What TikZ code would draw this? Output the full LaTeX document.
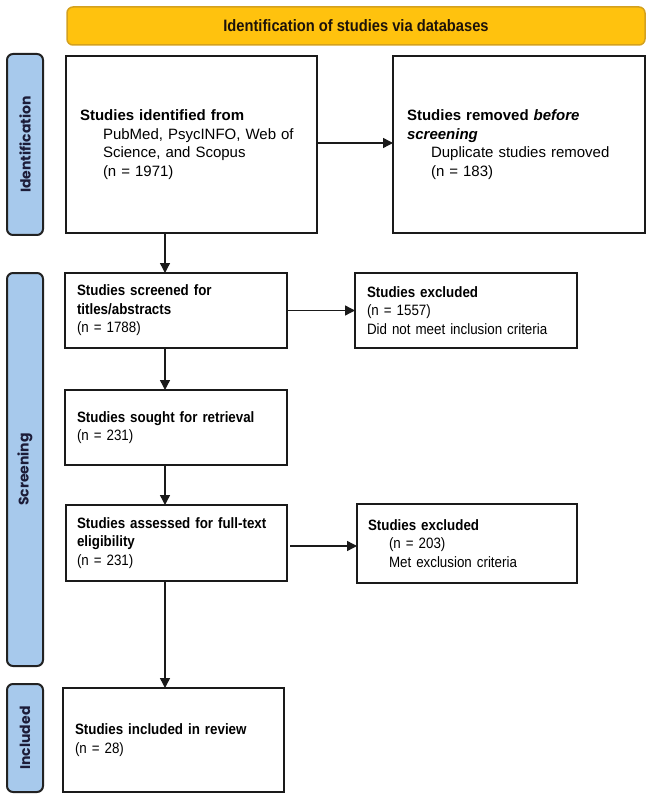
\documentclass[tikz,border=0pt]{standalone}
\usepackage{fontspec}
\setmainfont{Liberation Sans}
\newfontfamily\narrowfont{Liberation Sans}[FakeStretch=0.89]
\newfontfamily\sidefont{Poppins}
\usetikzlibrary{arrows.meta,calc}
\definecolor{boxc}{HTML}{1A1A1A}
\definecolor{sidefill}{HTML}{A7C9EC}
\definecolor{sideline}{HTML}{222222}
\definecolor{bannerfill}{HTML}{FFC20E}
\definecolor{bannerline}{HTML}{D4A11E}
\definecolor{sidetext}{HTML}{1C1C38}
\tikzset{
  box/.style={draw=boxc, line width=2.3pt, align=left, inner ysep=0pt, outer sep=0pt},
  bigtext/.style={font=\fontsize{15}{18.7}\selectfont},
  smalltext/.style={font=\narrowfont\fontsize{15}{18.6}\selectfont},
  sidebar/.style={draw=sideline, fill=sidefill, line width=2pt, rounded corners=6pt},
  sidelabel/.style={rotate=90, text=sidetext, font=\sidefont\bfseries\fontsize{14}{16}\selectfont},
  arr/.style={draw=boxc, line width=1.4pt, -{Triangle[length=10pt,width=10pt]}},
}
\begin{document}
\begin{tikzpicture}[x=1pt,y=-1pt]
\useasboundingbox (0,0) rectangle (652,799);
% banner
\node[draw=bannerline, fill=bannerfill, line width=1.5pt, rounded corners=6pt,
      minimum width=578pt, minimum height=38pt, inner sep=0pt,
      font=\narrowfont\bfseries\fontsize{16.5}{18}\selectfont, text=black!85!brown] (banner) at (356,26)
      {Identification of studies via databases};
% side bars
\node[sidebar, minimum width=36pt, minimum height=181pt, inner sep=0pt] (sideid) at (25,144.5) {};
\node[sidelabel] (sideidl) at (sideid.center) {Identification};
\node[sidebar, minimum width=36pt, minimum height=393pt, inner sep=0pt] (sidescr) at (25,469.5) {};
\node[sidelabel] (sidescrl) at (sidescr.center) {Screening};
\node[sidebar, minimum width=36pt, minimum height=108pt, inner sep=0pt] (sideinc) at (25,738) {};
\node[sidelabel] (sideincl) at (sideinc.center) {Included};
% boxes
\node[box, bigtext, minimum width=251pt, minimum height=177pt, text width=223pt, inner xsep=14pt] (ident) at (191.5,144.5)
  {\textbf{Studies identified from}\\
   \hspace*{23pt}PubMed, PsycINFO, Web of\\
   \hspace*{23pt}Science, and Scopus\\
   \hspace*{23pt}(n = 1971)};
\node[box, bigtext, minimum width=252pt, minimum height=177pt, text width=224pt, inner xsep=14pt] (removed) at (519,144.5)
  {\textbf{Studies removed \textit{before}}\\
   \textbf{\textit{screening}}\\
   \hspace*{24pt}Duplicate studies removed\\
   \hspace*{24pt}(n = 183)};
\node[box, smalltext, minimum width=222pt, minimum height=75pt, text width=198pt, inner xsep=12pt] (screened) at (176,310.5)
  {\textbf{Studies screened for}\\
   \textbf{titles/abstracts}\\
   (n = 1788)};
\node[box, smalltext, minimum width=222pt, minimum height=75pt, text width=198pt, inner xsep=12pt] (excl1) at (466,310.5)
  {\textbf{Studies excluded}\\
   (n = 1557)\\
   Did not meet inclusion criteria};
\node[box, smalltext, minimum width=222pt, minimum height=75pt, text width=198pt, inner xsep=12pt] (sought) at (176,427.5)
  {\textbf{Studies sought for retrieval}\\
   (n = 231)};
\node[box, smalltext, minimum width=221pt, minimum height=76pt, text width=199pt, inner xsep=11pt] (assessed) at (176.5,543)
  {\textbf{Studies assessed for full-text}\\
   \textbf{eligibility}\\
   (n = 231)};
\node[box, smalltext, minimum width=220pt, minimum height=79pt, text width=198pt, inner xsep=11pt] (excl2) at (467,543.5)
  {\textbf{Studies excluded}\\
   \hspace*{21pt}(n = 203)\\
   \hspace*{21pt}Met exclusion criteria};
\node[box, smalltext, minimum width=221pt, minimum height=104pt, text width=197pt, inner xsep=12pt] (included) at (173.5,740)
  {\textbf{Studies included in review}\\
   (n = 28)};
% connectors
\coordinate (xcol) at (165,0);
\draw[arr] (ident.east |- 0,143) -- (removed.west |- 0,143);
\draw[arr] (screened.east) -- (excl1.west |- screened.east);
\draw[arr] ([xshift=3pt]assessed.east |- 0,546) -- (excl2.west |- 0,546);
\draw[arr] (ident.south -| xcol) -- (screened.north -| xcol);
\draw[arr] (screened.south -| xcol) -- (sought.north -| xcol);
\draw[arr] (sought.south -| xcol) -- (assessed.north -| xcol);
\draw[arr] (assessed.south -| xcol) -- (included.north -| xcol);
\end{tikzpicture}
\end{document}
